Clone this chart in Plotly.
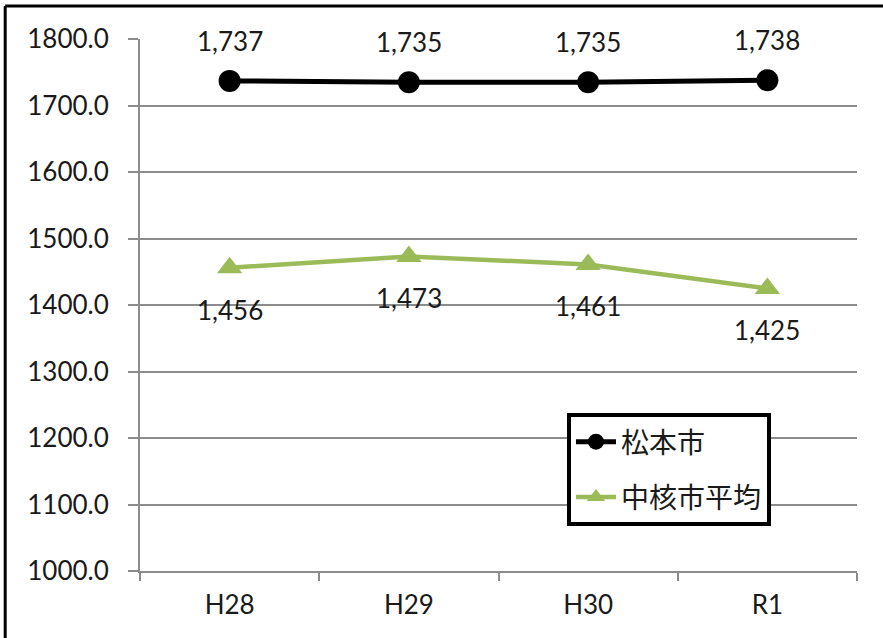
import plotly.graph_objects as go

# Fiscal years and the two series plotted against them
years = ["H28", "H29", "H30", "R1"]
matsumoto = [1737, 1735, 1735, 1738]
core_city_avg = [1456, 1473, 1461, 1425]

y_ticks = [1000, 1100, 1200, 1300, 1400, 1500, 1600, 1700, 1800]

BLACK = "#000000"
GREEN = "#9BBB59"
GRID = "#8C8C8C"
TEXT = "#1A1A1A"
FONT = "Lato, 'Noto Sans CJK JP', sans-serif"

fig = go.Figure()

fig.add_trace(go.Scatter(
    x=years, y=matsumoto, name="松本市", mode="lines+markers",
    line=dict(color=BLACK, width=5),
    marker=dict(symbol="circle", size=22, color=BLACK),
    legendgroup="a",
))
fig.add_trace(go.Scatter(
    x=years, y=core_city_avg, name="中核市平均", mode="lines+markers",
    line=dict(color=GREEN, width=4.5),
    marker=dict(symbol="triangle-up", size=22, color=GREEN),
    legendgroup="b",
))

# Value labels: above the black series, below the green series
for x, v in zip(years, matsumoto):
    fig.add_annotation(x=x, y=v, text=f"{v:,}", showarrow=False,
                       yshift=40, font=dict(size=26, color=TEXT, family=FONT))
for x, v in zip(years, core_city_avg):
    fig.add_annotation(x=x, y=v, text=f"{v:,}", showarrow=False,
                       yshift=-42, font=dict(size=26, color=TEXT, family=FONT))

# Outer frame: only its top and left edges lie inside the canvas
fig.add_shape(type="line", xref="paper", yref="paper",
              x0=-0.188, x1=1.1, y0=1.062, y1=1.062,
              line=dict(color=BLACK, width=3), layer="above")
fig.add_shape(type="line", xref="paper", yref="paper",
              x0=-0.188, x1=-0.188, y0=-0.2, y1=1.062,
              line=dict(color=BLACK, width=3), layer="above")

fig.update_layout(
    width=883, height=638,
    margin=dict(l=140, r=26, t=39, b=67),
    paper_bgcolor="white", plot_bgcolor="white",
    font=dict(family=FONT, color=TEXT, size=26),
    showlegend=True,
    legend=dict(
        x=0.5955, y=0.297, xanchor="left", yanchor="top",
        bgcolor="white", bordercolor=BLACK, borderwidth=4,
        font=dict(size=28, color=TEXT, family=FONT),
        traceorder="grouped", tracegroupgap=16,
        itemwidth=40,
    ),
    xaxis=dict(
        type="category", categoryorder="array", categoryarray=years,
        range=[-0.5, 3.5],
        showgrid=False, showline=True, linecolor=GRID, linewidth=2,
        ticks="outside", tickson="boundaries", ticklen=8,
        tickcolor=GRID, tickwidth=2, ticklabelstandoff=10,
        tickfont=dict(size=26, color=TEXT, family=FONT),
    ),
    yaxis=dict(
        range=[1000, 1800], tickvals=y_ticks,
        ticktext=[f"{v:.1f}" for v in y_ticks],
        showgrid=True, gridcolor=GRID, gridwidth=2,
        showline=True, linecolor=GRID, linewidth=2,
        ticks="outside", ticklen=10, tickcolor=GRID, tickwidth=2,
        ticklabelstandoff=14, zeroline=False,
        tickfont=dict(size=26, color=TEXT, family=FONT),
    ),
)

fig.write_html("out.html")
